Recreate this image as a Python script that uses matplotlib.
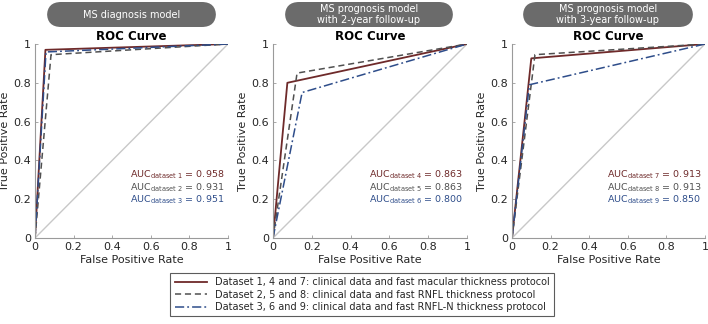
import matplotlib
matplotlib.use("Agg")
import matplotlib.pyplot as plt
from matplotlib.patches import FancyBboxPatch
from matplotlib.lines import Line2D

plt.rcParams['font.family'] = ['DejaVu Sans']

headers = ["MS diagnosis model", "MS prognosis model\nwith 2-year follow-up",
           "MS prognosis model\nwith 3-year follow-up"]
# operating points (FPR, TPR) per panel for the three datasets
fpr = [[0.054, 0.083, 0.057], [0.074, 0.124, 0.150], [0.100, 0.119, 0.090]]
tpr = [[0.970, 0.945, 0.959], [0.800, 0.850, 0.750], [0.926, 0.945, 0.790]]
auc = [["0.958", "0.931", "0.951"], ["0.863", "0.863", "0.800"], ["0.913", "0.913", "0.850"]]
dataset_ids = [[1, 2, 3], [4, 5, 6], [7, 8, 9]]
legend_labels = ["Dataset 1, 4 and 7: clinical data and fast macular thickness protocol",
                 "Dataset 2, 5 and 8: clinical data and fast RNFL thickness protocol",
                 "Dataset 3, 6 and 9: clinical data and fast RNFL-N thickness protocol"]
ticks = [0, 0.2, 0.4, 0.6, 0.8, 1]
tick_labels = ["0", "0.2", "0.4", "0.6", "0.8", "1"]

colors = ["#6e2a2a", "#505050", "#2e4d8a"]
styles = ["-", (0, (4, 2.5)), (0, (6, 2, 1.2, 2))]
widths = [1.3, 1.1, 1.1]

W, H = 708, 324
fig = plt.figure(figsize=(W / 100, H / 100), dpi=100)

axes_px = [(35, 228), (273, 467), (512, 705)]
hdr_px = [(47, 216), (285, 453), (523, 693)]
top_px, bot_px = 44, 238

for i in range(3):
    l, r = axes_px[i]
    ax = fig.add_axes([l / W, 1 - bot_px / H, (r - l) / W, (bot_px - top_px) / H])
    ax.plot([0, 1], [0, 1], color="#c8c8c8", lw=1.0)
    for j in range(3):
        ax.plot([0, fpr[i][j], 1], [0, tpr[i][j], 1], color=colors[j],
                linestyle=styles[j], lw=widths[j])
    ax.set_xlim(0, 1)
    ax.set_ylim(0, 1)
    ax.set_xticks(ticks)
    ax.set_yticks(ticks)
    ax.set_xticklabels(tick_labels)
    ax.set_yticklabels(tick_labels)
    for s in ["top", "right"]:
        ax.spines[s].set_visible(False)
    for s in ["left", "bottom"]:
        ax.spines[s].set_color("#9a9a9a")
        ax.spines[s].set_linewidth(0.8)
    ax.tick_params(direction="in", length=2.5, width=0.6, color="#9a9a9a",
                   labelsize=8, labelcolor="#262626", pad=3)
    ax.set_xlabel("False Positive Rate", fontsize=8, color="#262626", labelpad=2)
    ax.set_ylabel("True Positive Rate", fontsize=8, color="#262626", labelpad=2)
    ax.set_title("ROC Curve", fontsize=8.5, fontweight="bold", pad=3)
    ys = [0.325, 0.26, 0.195]
    for j in range(3):
        ax.text(0.98, ys[j],
                r"AUC$_{\mathrm{dataset\ %d}}$ = %s" % (dataset_ids[i][j], auc[i][j]),
                color=colors[j], fontsize=6.8, ha="right", va="center",
                transform=ax.transAxes)
    # header box
    hl, hr = hdr_px[i]
    box = FancyBboxPatch((hl / W, 1 - 27 / H), (hr - hl) / W, 25 / H,
                         boxstyle="round,pad=0,rounding_size=0.02",
                         transform=fig.transFigure, facecolor="#6b6b6b",
                         edgecolor="none", mutation_aspect=W / H)
    fig.add_artist(box)
    fig.text((hl + hr) / 2 / W, 1 - 14.5 / H, headers[i], color="white",
             fontsize=7, ha="center", va="center", linespacing=1.15)

handles = [Line2D([0], [0], color=colors[j], linestyle=styles[j], lw=widths[j])
           for j in range(3)]
leg = fig.legend(handles, legend_labels, loc="center",
                 bbox_to_anchor=((167 + 557) / 2 / W, 1 - 294.5 / H),
                 fontsize=7, frameon=True, fancybox=False, handlelength=3.3,
                 labelspacing=0.25, borderpad=0.45, handletextpad=0.8)
leg.get_frame().set_edgecolor("#333333")
leg.get_frame().set_linewidth(0.8)
for t in leg.get_texts():
    t.set_color("#262626")

fig.savefig("out.png", dpi=100)
